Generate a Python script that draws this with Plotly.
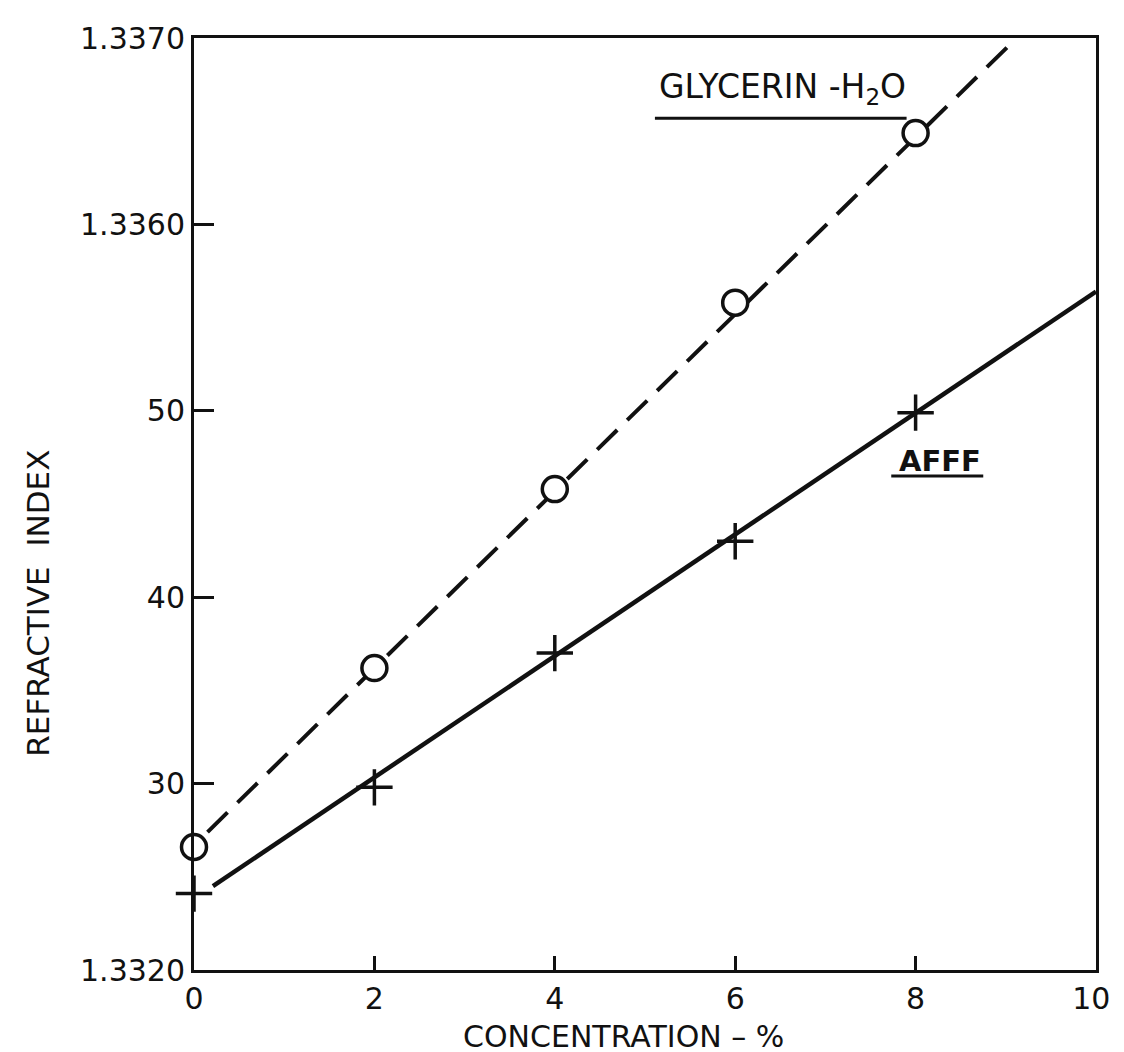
import plotly.graph_objects as go

# ---- data ----
conc = [0, 2, 4, 6, 8]
glycerin_ri = [1.33266, 1.33362, 1.33458, 1.33558, 1.33649]
afff_ri = [1.33241, 1.33298, 1.33370, 1.33430, 1.33499]

# hand-drawn fitted lines (end points)
glycerin_fit_x = [0.15, 9.12]
glycerin_fit_y = [1.33274, 1.33700]
afff_fit_x = [0.21, 10.0]
afff_fit_y = [1.33245, 1.33564]

x_tickvals = [0, 2, 4, 6, 8, 10]
x_ticktext = ["0", "2", "4", "6", "8", "10\u00a0"]
y_tickvals = [1.3320, 1.3330, 1.3340, 1.3350, 1.3360, 1.3370]
y_ticktext = ["1.3320", "30", "40", "50", "1.3360", "1.3370"]

FONT = "DejaVu Sans"
BLACK = "#111111"

fig = go.Figure()

fig.add_trace(go.Scatter(
    x=glycerin_fit_x, y=glycerin_fit_y, mode="lines",
    line=dict(color=BLACK, width=4, dash="28px,14px"),
    showlegend=False, hoverinfo="skip"))
fig.add_trace(go.Scatter(
    x=afff_fit_x, y=afff_fit_y, mode="lines",
    line=dict(color=BLACK, width=4.5),
    showlegend=False, hoverinfo="skip"))
fig.add_trace(go.Scatter(
    x=conc, y=glycerin_ri, mode="markers", cliponaxis=False,
    marker=dict(symbol="circle", size=25, color="white",
                line=dict(color=BLACK, width=3.5)),
    showlegend=False))
fig.add_trace(go.Scatter(
    x=conc, y=afff_ri, mode="markers", cliponaxis=False,
    marker=dict(symbol="cross-thin-open", size=26, color=BLACK,
                line=dict(color=BLACK, width=3.5)),
    showlegend=False))

# labels for the curves
glyc_label = dict(x=6.52, y=1.33673)
afff_label = dict(x=8.27, y=1.33473)

fig.add_annotation(x=glyc_label["x"], y=glyc_label["y"], xref="x", yref="y",
                   xanchor="center", yanchor="middle",
                   text="GLYCERIN -H<sub>2</sub>O", showarrow=False,
                   font=dict(family=FONT, size=33, color=BLACK))
fig.add_annotation(x=afff_label["x"], y=afff_label["y"], xref="x", yref="y",
                   xanchor="center", yanchor="middle",
                   text="<b>AFFF</b>", showarrow=False,
                   font=dict(family=FONT, size=29, color=BLACK))
# underlines
fig.add_shape(type="line", xref="x", yref="y",
              x0=glyc_label["x"] - 1.41, x1=glyc_label["x"] + 1.38,
              y0=glyc_label["y"] - 0.00016, y1=glyc_label["y"] - 0.00016,
              line=dict(color=BLACK, width=3))
fig.add_shape(type="line", xref="x", yref="y",
              x0=afff_label["x"] - 0.54, x1=afff_label["x"] + 0.48,
              y0=afff_label["y"] - 0.00008, y1=afff_label["y"] - 0.00008,
              line=dict(color=BLACK, width=3))

# axis titles
fig.add_annotation(x=0.476, y=-0.071, xref="paper", yref="paper",
                   xanchor="center", yanchor="middle",
                   text="CONCENTRATION – %", showarrow=False,
                   font=dict(family=FONT, size=30, color=BLACK))
fig.add_annotation(x=-0.173, y=0.394, xref="paper", yref="paper",
                   xanchor="center", yanchor="middle",
                   text="REFRACTIVE  INDEX", showarrow=False, textangle=-90,
                   font=dict(family=FONT, size=31, color=BLACK))

axis_common = dict(showgrid=False, zeroline=False, showline=True,
                   linecolor=BLACK, linewidth=3, mirror=True,
                   ticks="inside", tickcolor=BLACK, tickwidth=2.5,
                   tickfont=dict(family=FONT, size=30, color=BLACK))

fig.update_xaxes(range=[0, 10], tickvals=x_tickvals, ticktext=x_ticktext,
                 ticklen=14, **axis_common)
fig.update_yaxes(range=[1.3320, 1.3370], tickvals=y_tickvals,
                 ticktext=y_ticktext, ticklen=20, **axis_common)

fig.update_layout(
    width=1124, height=1052,
    margin=dict(l=186, r=26, t=28, b=90),
    paper_bgcolor="white", plot_bgcolor="white",
    font=dict(family=FONT, color=BLACK),
)

fig.write_html("out.html")
